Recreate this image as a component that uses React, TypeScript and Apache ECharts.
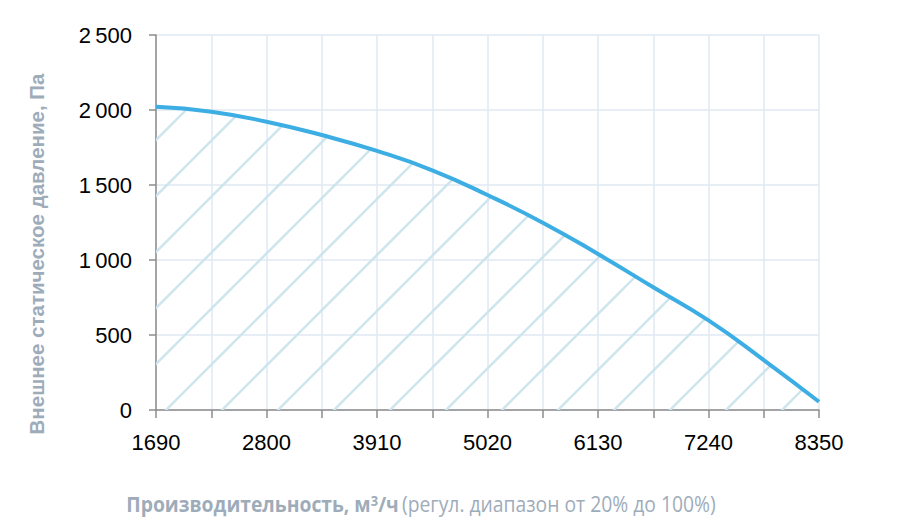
import React, { useEffect, useRef } from 'react';
import * as echarts from 'echarts';

// Airflow (m³/h) categories, every 555 m³/h
const categories = [1690, 2245, 2800, 3355, 3910, 4465, 5020, 5575, 6130, 6685, 7240, 7795, 8350];
// External static pressure (Pa) read at each category
const pressure = [2022, 1989, 1922, 1833, 1727, 1598, 1433, 1249, 1040, 818, 597, 333, 55];

const yMin = 0;
const yMax = 2500;
const yStep = 500;

const yTitle = 'Внешнее статическое давление, Па';
const xTitleBold = 'Производительность, м';
const xTitleSup = '3';
const xTitleUnit = '/ч';
const xTitleNote = '(регул. диапазон от 20% до 100%)';

function fmtThousands(v: number): string {
  if (v < 1000) return String(v);
  const th = Math.floor(v / 1000);
  const rest = String(v % 1000).padStart(3, '0');
  return th + '\u2009' + rest;
}

function makeHatch(): HTMLCanvasElement {
  const c = document.createElement('canvas');
  c.width = 56;
  c.height = 56;
  const ctx = c.getContext('2d')!;
  ctx.clearRect(0, 0, 56, 56);
  ctx.strokeStyle = '#cde5ee';
  ctx.lineWidth = 2.4;
  ctx.lineCap = 'butt';
  for (const k of [-40, 16, 72, 128]) {
    ctx.beginPath();
    ctx.moveTo(k - 80, 80);
    ctx.lineTo(k + 80, -80);
    ctx.stroke();
  }
  return c;
}

export default function App() {
  const ref = useRef<HTMLDivElement>(null);

  useEffect(() => {
    if (!ref.current) return;
    const chart = echarts.init(ref.current, undefined, { renderer: 'svg' });
    const axisColor = '#8c8c8c';
    const gridColor = '#e0e8f3';
    const labelFont = '"Liberation Sans", Arial, sans-serif';
    const titleColor = '#9eacba';

    chart.setOption({
      animation: false,
      backgroundColor: '#ffffff',
      grid: { left: 156, top: 35, right: 93, bottom: 116, containLabel: false },
      xAxis: {
        type: 'category',
        data: categories.map(String),
        boundaryGap: false,
        axisLine: { show: true, lineStyle: { color: axisColor, width: 1.5 } },
        axisTick: { show: true, interval: 0, length: 8, lineStyle: { color: axisColor, width: 1.5 } },
        axisLabel: {
          interval: 1,
          fontSize: 22,
          color: '#000000',
          fontFamily: labelFont,
          margin: 21,
        },
        splitLine: { show: true, interval: 0, lineStyle: { color: gridColor, width: 1.5 } },
      },
      yAxis: {
        type: 'value',
        min: yMin,
        max: yMax,
        interval: yStep,
        axisLine: { show: true, lineStyle: { color: axisColor, width: 1.5 } },
        axisTick: { show: true, length: 7, lineStyle: { color: axisColor, width: 1.5 } },
        axisLabel: {
          fontSize: 22,
          color: '#000000',
          fontFamily: labelFont,
          margin: 24,
          formatter: (v: number) => fmtThousands(v),
        },
        splitLine: { show: true, lineStyle: { color: gridColor, width: 1.5 } },
      },
      series: [
        {
          type: 'line',
          data: pressure,
          smooth: 0.5,
          symbol: 'none',
          lineStyle: { color: '#3daee3', width: 4 },
          areaStyle: {
            opacity: 1,
            color: { image: makeHatch(), repeat: 'repeat' },
          },
          z: 3,
        },
      ],
      graphic: [
        {
          type: 'text',
          x: 36,
          y: 254,
          rotation: Math.PI / 2,
          style: {
            text: yTitle,
            fill: titleColor,
            font: 'bold 20.5px "Liberation Sans", Arial, sans-serif',
            textAlign: 'center',
            textVerticalAlign: 'middle',
          },
        },
        {
          type: 'text',
          x: 421,
          y: 504,
          scaleX: 0.92,
          style: {
            text:
              '{b|' + xTitleBold + '}{s|' + xTitleSup + '}{b|' + xTitleUnit + '} {n|' + xTitleNote + '}',
            textAlign: 'center',
            textVerticalAlign: 'middle',
            rich: {
              b: { fontSize: 21, fontWeight: 'bold', fill: titleColor, fontFamily: '"Open Sans", sans-serif' },
              s: { fontSize: 14, fontWeight: 'bold', fill: titleColor, fontFamily: '"Open Sans", sans-serif', verticalAlign: 'top' },
              n: { fontSize: 21, fontWeight: 'normal', fill: titleColor, fontFamily: '"Open Sans", sans-serif' },
            },
          },
        },
      ],
    });

    return () => chart.dispose();
  }, []);

  return (
    <div
      ref={ref}
      style={{ position: 'fixed', left: 0, top: 0, width: 912, height: 526 }}
    />
  );
}
